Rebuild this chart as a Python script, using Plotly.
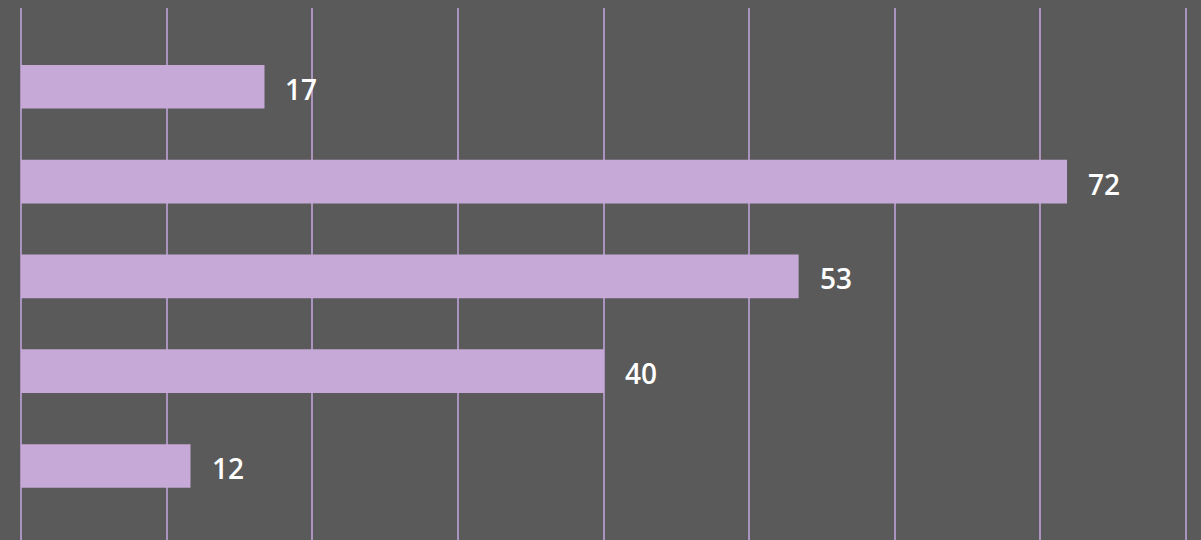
import plotly.graph_objects as go

categories = ["A", "B", "C", "D", "E"]
values = [16.72, 71.83, 53.4, 40.03, 11.64]
labels = ["17", "72", "53", "40", "12"]

bar_color = "#c6a9d6"
bg = "#5a5a5a"
grid = "#ab93bf"

fig = go.Figure()
fig.add_trace(go.Bar(
    x=values, y=categories, orientation="h",
    marker=dict(color=bar_color, line=dict(width=0)),
    width=0.46, hoverinfo="skip",
))

for c, v, t in zip(categories, values, labels):
    fig.add_annotation(
        x=v, y=c, text=t, showarrow=False, xanchor="left", yanchor="middle",
        xshift=19, yshift=-2,
        font=dict(family="Open Sans", size=28, color="#ffffff", weight=600),
    )

fig.update_layout(
    width=1201, height=540,
    margin=dict(l=18, r=0, t=8, b=0),
    paper_bgcolor=bg, plot_bgcolor=bg,
    showlegend=False, bargap=0.54,
)
fig.update_xaxes(
    range=[-0.206, 81.03], dtick=10, tick0=0, showgrid=True, gridcolor=grid, gridwidth=2,
    zeroline=False, showticklabels=False, ticks="", showline=False,
)
fig.update_yaxes(
    type="category", categoryorder="array", categoryarray=categories,
    range=[4.781, -0.831], showgrid=False, zeroline=False,
    showticklabels=False, ticks="", showline=False,
)

fig.write_html("out.html")
